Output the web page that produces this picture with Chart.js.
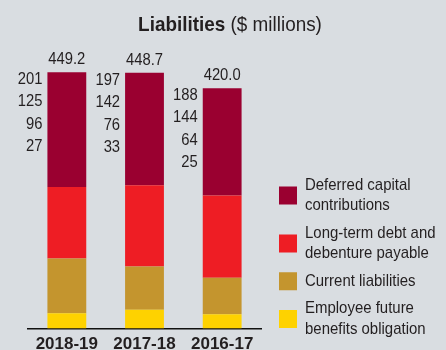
<!DOCTYPE html>
<html>
<head>
<meta charset="utf-8">
<script src="https://cdn.jsdelivr.net/npm/chart.js@4"></script>
<style>
  html, body { margin: 0; padding: 0; background: #d9dde1; }
  #wrap { width: 446px; height: 350px; position: relative; }
</style>
</head>
<body>
<div id="wrap"><canvas id="liabChart"></canvas></div>
<script>
const FONT = "'Liberation Sans', Arial, sans-serif";
const INK = '#231f20';

const years = ['2018-19', '2017-18', '2016-17'];
const totals = [449.2, 448.7, 420.0];

// bottom to top
const employeeBenefits = [27, 33, 25];
const currentLiab = [96, 76, 64];
const longTermDebt = [125, 142, 144];
const deferredCapital = [201, 197, 188];

const seriesNames = [
  ['Employee future', 'benefits obligation'],
  ['Current liabilities'],
  ['Long-term debt and', 'debenture payable'],
  ['Deferred capital', 'contributions']
];
const seriesColors = ['#fed200', '#c4952e', '#ee1d24', '#9a0030'];

// draws text squeezed horizontally around its anchor point
function narrowText(ctx, text, x, y, align, sx) {
  ctx.save();
  ctx.translate(x, y);
  ctx.scale(sx, 1);
  ctx.textAlign = align;
  ctx.fillText(text, 0, 0);
  ctx.restore();
}

// title, stack values, totals and legend
const annotate = {
  id: 'annotate',
  afterDraw(chart) {
    const ctx = chart.ctx;
    const sets = chart.data.datasets;
    ctx.save();
    ctx.fillStyle = INK;
    ctx.textBaseline = 'middle';

    // title: bold word + plain units
    const sq = 0.9;
    const t1 = 'Liabilities';
    const t2 = ' ($ millions)';
    ctx.font = 'bold 21px ' + FONT;
    const w1 = ctx.measureText(t1).width * sq;
    ctx.font = '21px ' + FONT;
    const w2 = ctx.measureText(t2).width * sq;
    const tx = 230 - (w1 + w2) / 2;
    ctx.font = 'bold 21px ' + FONT;
    narrowText(ctx, t1, tx, 25, 'left', sq);
    ctx.font = '21px ' + FONT;
    narrowText(ctx, t2, tx + w1, 25, 'left', sq);

    // per-bar values, listed top segment first, left of the bar
    ctx.font = '17px ' + FONT;
    const topMeta = chart.getDatasetMeta(sets.length - 1);
    years.forEach((y, i) => {
      const bar = topMeta.data[i];
      const left = bar.x - bar.width / 2;
      for (let k = 0; k < sets.length; k++) {
        const ds = sets[sets.length - 1 - k];
        narrowText(ctx, String(ds.data[i]), left - 5, bar.y + 7 + k * 22.5, 'right', 0.87);
      }
      narrowText(ctx, totals[i].toFixed(1), bar.x, bar.y - 13, 'center', 0.87);
    });

    // legend, top series first
    let ly = 175;
    for (let k = sets.length - 1; k >= 0; k--) {
      const lines = sets[k].label;
      const h = lines.length * 20.5;
      ctx.fillStyle = sets[k].backgroundColor;
      ctx.fillRect(279, ly + h / 2 - 9, 18, 18);
      ctx.fillStyle = INK;
      ctx.font = '17px ' + FONT;
      lines.forEach((ln, j) => narrowText(ctx, ln, 305, ly + 10 + j * 20.5, 'left', 0.88));
      ly += h + 7;
    }
    ctx.restore();
  }
};

new Chart(document.getElementById('liabChart'), {
  type: 'bar',
  data: {
    labels: years,
    datasets: [employeeBenefits, currentLiab, longTermDebt, deferredCapital].map((d, i) => ({
      label: seriesNames[i],
      data: d,
      backgroundColor: seriesColors[i],
      barPercentage: 0.5,
      categoryPercentage: 1
    }))
  },
  options: {
    responsive: true,
    maintainAspectRatio: false,
    animation: false,
    layout: { padding: { left: 28, right: 185, top: 66, bottom: -11 } },
    plugins: { legend: { display: false }, tooltip: { enabled: false } },
    scales: {
      x: {
        stacked: true,
        grid: { display: false, drawTicks: false },
        border: { color: '#111', width: 1.5 },
        ticks: { color: INK, font: { family: FONT, size: 17, weight: 'bold' }, padding: 6 }
      },
      y: { stacked: true, display: false, min: 0, max: 460 }
    }
  },
  plugins: [annotate]
});
</script>
</body>
</html>
